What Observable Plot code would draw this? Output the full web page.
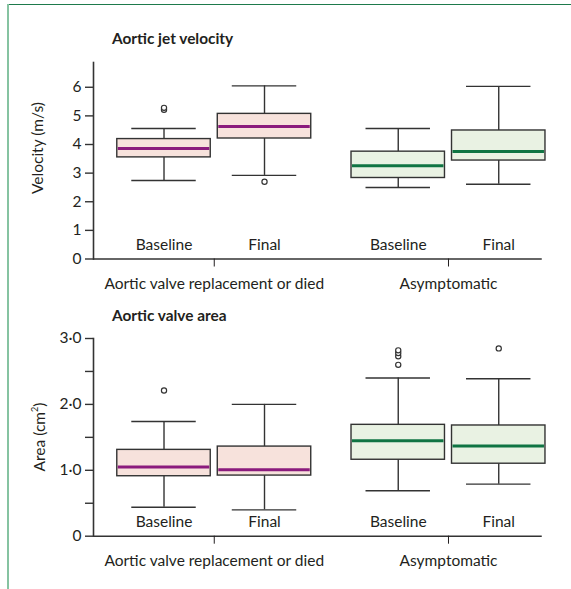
<!DOCTYPE html>
<html>
<head>
<meta charset="utf-8">
<script src="https://cdn.jsdelivr.net/npm/d3@7"></script>
<script src="https://cdn.jsdelivr.net/npm/@observablehq/plot@0.6"></script>
<style>
  html, body { margin: 0; padding: 0; background: #fff; }
  body { width: 571px; height: 589px; position: relative; overflow: hidden; font-family: Lato, "Open Sans", sans-serif; color: #231f20; }
  #frameTop { position: absolute; left: 7px; top: 3.5px; width: 564px; height: 0; border-top: 1.2px solid #1e7a4c; }
  #frameLeft { position: absolute; left: 7px; top: 4px; width: 0; height: 585px; border-left: 2px solid #86c3a1; }
  .title { position: absolute; left: 112px; font-weight: bold; font-size: 15.4px; line-height: 16px; }
  .ylab { position: absolute; font-size: 15.5px; line-height: 16px; white-space: nowrap; transform: translate(-50%, -50%) rotate(-90deg); }
  .panel { position: absolute; left: 0; width: 571px; }
  .panel svg { position: absolute; left: 0; top: 0; max-width: none !important; }
</style>
</head>
<body>
<div id="frameTop"></div>
<div id="frameLeft"></div>
<div class="title" style="top:30px">Aortic jet velocity</div>
<div class="title" style="top:307px">Aortic valve area</div>
<div class="ylab" style="left:37px; top:148px">Velocity (m/s)</div>
<div class="ylab" style="left:37px; top:437px">Area (cm<sup style="font-size:9px">2</sup>)</div>
<div id="top" class="panel" style="top:0px; height:300px"></div>
<div id="bottom" class="panel" style="top:300px; height:289px"></div>
<script>
// ---- data ----
const groups = ["Aortic valve replacement or died", "Asymptomatic"];
const conditions = ["Baseline", "Final"];
// box order: AVR Baseline, AVR Final, Asym Baseline, Asym Final
const boxGroup = [groups[0], groups[0], groups[1], groups[1]];
const boxCond = ["Baseline", "Final", "Baseline", "Final"];

// Aortic jet velocity (m/s)
const velMin = [2.74, 2.92, 2.50, 2.61];
const velQ1 = [3.55, 4.21, 2.83, 3.44];
const velMed = [3.86, 4.63, 3.26, 3.76];
const velQ3 = [4.19, 5.07, 3.75, 4.49];
const velMax = [4.56, 6.05, 4.56, 6.03];
const velOut = [[5.21, 5.28], [2.70], [], []];
const velTicks = [0, 1, 2, 3, 4, 5, 6];
const velTickLabels = ["0", "1", "2", "3", "4", "5", "6"];

// Aortic valve area (cm2)
const areaMin = [0.44, 0.40, 0.69, 0.79];
const areaQ1 = [0.91, 0.92, 1.16, 1.10];
const areaMed = [1.05, 1.01, 1.45, 1.37];
const areaQ3 = [1.31, 1.36, 1.69, 1.68];
const areaMax = [1.74, 2.00, 2.40, 2.39];
const areaOut = [[2.21], [], [2.60, 2.73, 2.78, 2.82], [2.85]];
const areaTicks = [0, 0.5, 1, 1.5, 2, 2.5, 3];
const areaTickLabels = ["0", "", "1·0", "", "2·0", "", "3·0"];

// ---- styles ----
const boxFill = {[groups[0]]: "#f7e2dc", [groups[1]]: "#e9f2e3"};
const medStroke = {[groups[0]]: "#8b1b7d", [groups[1]]: "#0f7443"};
const ink = "#333";
const font = {fontFamily: "Lato, 'Open Sans', sans-serif", fontSize: "15.5px", color: "#231f20", background: "transparent", overflow: "visible"};

function buildRows(mn, q1, md, q3, mx) {
  return boxGroup.map((g, i) => ({group: g, cond: boxCond[i], min: mn[i], q1: q1[i], med: md[i], q3: q3[i], max: mx[i]}));
}
function buildOut(out) {
  return out.flatMap((vals, i) => vals.map(v => ({group: boxGroup[i], cond: boxCond[i], v})));
}

function panel(el, {rows, outs, yMax, ticks, tickLabels, height, marginTop, marginBottom}) {
  const common = {width: 571, height, marginLeft: 93, marginRight: 2.25, marginTop, marginBottom, style: font};
  // axes layer (shared y scale)
  const axes = Plot.plot({
    ...common,
    y: {domain: [0, yMax], axis: null},
    marks: [
      Plot.frame({anchor: "left", stroke: ink, strokeWidth: 1.6}),
      Plot.ruleY([0], {stroke: ink, strokeWidth: 1.6, insetRight: 27}),
      Plot.axisY({ticks, tickFormat: (d, i) => tickLabels[i], tickSize: 8, tickPadding: 4, stroke: ink, strokeWidth: 1.4, label: null})
    ]
  });
  // boxes layer, faceted by group
  const boxes = Plot.plot({
    ...common,
    fx: {domain: groups, paddingInner: 0.1419, paddingOuter: 0.0865, round: false, axis: "bottom", tickSize: 8, tickPadding: 11, label: null},
    x: {domain: conditions, paddingInner: 0.07, paddingOuter: 0.035, round: false, axis: null},
    y: {domain: [0, yMax], axis: null},
    color: {type: "identity"},
    marks: [
      Plot.ruleX(rows, {fx: "group", x: "cond", y1: "min", y2: "q1", stroke: ink, strokeWidth: 1.4}),
      Plot.ruleX(rows, {fx: "group", x: "cond", y1: "q3", y2: "max", stroke: ink, strokeWidth: 1.4}),
      Plot.tickY(rows, {fx: "group", x: "cond", y: "min", stroke: ink, strokeWidth: 1.4, insetLeft: 14.5, insetRight: 14.5}),
      Plot.tickY(rows, {fx: "group", x: "cond", y: "max", stroke: ink, strokeWidth: 1.4, insetLeft: 14.5, insetRight: 14.5}),
      Plot.barY(rows, {fx: "group", x: "cond", y1: "q1", y2: "q3", fill: d => boxFill[d.group], stroke: ink, strokeWidth: 1.4}),
      Plot.tickY(rows, {fx: "group", x: "cond", y: "med", stroke: d => medStroke[d.group], strokeWidth: 3, insetLeft: 1, insetRight: 1}),
      Plot.dot(outs, {fx: "group", x: "cond", y: "v", r: 2.6, stroke: ink, strokeWidth: 1.2, fill: "white"}),
      Plot.text(conditions, {x: d => d, frameAnchor: "bottom", dy: -9, fill: "#231f20"})
    ]
  });
  el.append(axes, boxes);
}

panel(document.getElementById("top"), {
  rows: buildRows(velMin, velQ1, velMed, velQ3, velMax),
  outs: buildOut(velOut),
  yMax: 6.865, ticks: velTicks, tickLabels: velTickLabels,
  height: 300, marginTop: 62, marginBottom: 41.5
});
panel(document.getElementById("bottom"), {
  rows: buildRows(areaMin, areaQ1, areaMed, areaQ3, areaMax),
  outs: buildOut(areaOut),
  yMax: 3, ticks: areaTicks, tickLabels: areaTickLabels,
  height: 289, marginTop: 38, marginBottom: 53.3
});
</script>
</body>
</html>
